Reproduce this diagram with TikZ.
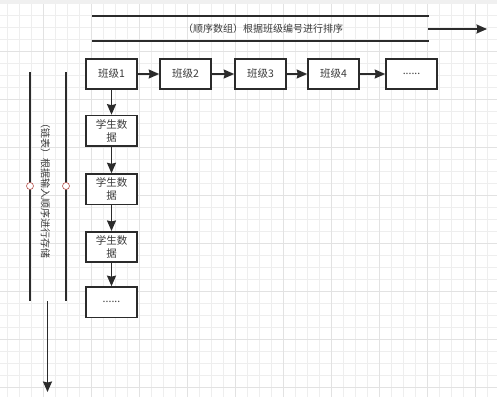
\documentclass[tikz,border=0pt]{standalone}
\usepackage{fontspec}
\setmainfont{Noto Sans CJK SC}
\usetikzlibrary{arrows.meta}
\definecolor{gridminor}{HTML}{EEEEEE}
\definecolor{gridmajor}{HTML}{E2E2E2}
\definecolor{linec}{HTML}{2B2B2B}
\definecolor{textc}{HTML}{3A3A3A}
\definecolor{dotc}{HTML}{B85450}
\tikzset{
  box/.style={draw=linec, line width=1.6pt, fill=white, minimum width=51pt, minimum height=30.5pt, inner sep=1pt, align=center, text=textc, font=\fontsize{10.5}{13}\selectfont},
  conn/.style={draw=linec, line width=1.6pt, -{Stealth[length=10.5pt,width=9pt,inset=1pt]}},
  bar/.style={draw=linec, line width=1.6pt},
  dot/.style={circle, draw=dotc, line width=0.6pt, fill=white, minimum size=7pt, inner sep=0pt},
  lbl/.style={text=textc, font=\fontsize{10}{12}\selectfont, inner sep=0pt}
}
\begin{document}
\begin{tikzpicture}[x=1pt,y=-1pt]
\useasboundingbox (0,0) rectangle (497,397);
\fill[white] (0,0) rectangle (497,397);
% grid
\foreach \i in {0,...,41} {\draw[gridminor, line width=0.6pt] (7.5+12*\i,0) -- (7.5+12*\i,397);}
\foreach \i in {0,...,33} {\draw[gridminor, line width=0.6pt] (0,3.5+12*\i) -- (497,3.5+12*\i);}
\foreach \i in {0,...,10} {\draw[gridmajor, line width=0.8pt] (43.5+48*\i,0) -- (43.5+48*\i,397);}
\foreach \i in {0,...,8} {\draw[gridmajor, line width=0.8pt] (0,3.5+48*\i) -- (497,3.5+48*\i);}
\fill[gray!12] (0,0) rectangle (497,4);
% top band
\coordinate (t1a) at (92,16); \coordinate (t1b) at (429,16);
\coordinate (t2a) at (92,41); \coordinate (t2b) at (429,41);
\draw[bar] (t1a) -- (t1b);
\draw[bar] (t2a) -- (t2b);
\node[lbl] (toplbl) at (263,29) {（顺序数组）根据班级编号进行排序};
\coordinate (ha) at (428,29); \coordinate (hb) at (487,29);
\draw[conn] (ha) -- (hb);
% left band
\coordinate (l1a) at (30,72); \coordinate (l1b) at (30,301);
\coordinate (l2a) at (66,72); \coordinate (l2b) at (66,301);
\draw[bar] (l1a) -- (l1b);
\draw[bar] (l2a) -- (l2b);
\node[dot] (d1) at (30,186) {};
\node[dot] (d2) at (66,186) {};
\node[lbl, rotate=-90] (leftlbl) at (45.5,188) {（链表）根据输入顺序进行存储};
\coordinate (va) at (47.5,301); \coordinate (vb) at (47.5,392);
\draw[conn] (va) -- (vb);
% class row
\node[box] (c1) at (111.5,74) {班级1};
\node[box] (c2) at (185.5,74) {班级2};
\node[box] (c3) at (260.5,74) {班级3};
\node[box] (c4) at (333.5,74) {班级4};
\node[box] (c5) at (411.5,74) {......};
\draw[conn] (c1) -- (c2);
\draw[conn] (c2) -- (c3);
\draw[conn] (c3) -- (c4);
\draw[conn] (c4) -- (c5);
% student column
\node[box] (s1) at (111.5,130.7) {学生数\\据};
\node[box] (s2) at (111.5,189.3) {学生数\\据};
\node[box] (s3) at (111.5,247) {学生数\\据};
\node[box] (s4) at (111.5,302.2) {......};
\draw[conn] (c1) -- (s1);
\draw[conn] (s1) -- (s2);
\draw[conn] (s2) -- (s3);
\draw[conn] (s3) -- (s4);
\end{tikzpicture}
\end{document}
